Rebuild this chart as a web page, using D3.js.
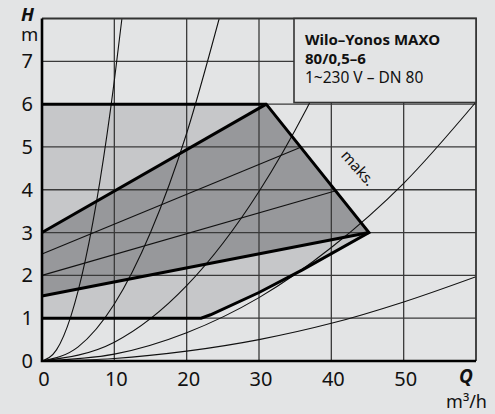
<!DOCTYPE html>
<html>
<head>
<meta charset="utf-8">
<script src="https://cdn.jsdelivr.net/npm/d3@7"></script>
<style>
  html, body { margin: 0; padding: 0; background: #e3e4e5; }
  svg { display: block; font-family: "Noto Sans", "Open Sans", sans-serif; }
</style>
</head>
<body>
<div class="container"></div>
<script>
// Chart values
const qTicks = [0, 10, 20, 30, 40, 50];
const hTicks = [0, 1, 2, 3, 4, 5, 6, 7];

// outer working field (min .. max), points as [Q, H]
const outerField = [[0, 6], [31, 6], [45.2, 3], [36, 2.13], [30, 1.6], [23.3, 1.08], [22, 1], [0, 1]];
// inner (darker) field
const innerField = [[0, 3], [31, 6], [45.2, 3], [0, 1.52]];
// thin lines inside the dark field
const midLines = [
    [[0, 2.5], [35.6, 4.98]],
    [[0, 2], [40.5, 3.97]]
];
// system curves from the origin
const sysCurves = [
    [[0, 0], [2, 0.26], [4, 1.05], [6, 2.36], [8, 4.19], [10, 6.55], [11.05, 8]],
    [[0, 0], [5, 0.33], [10, 1.33], [15, 3.0], [20, 5.32], [24.5, 8]],
    [[0, 0], [10, 0.44], [20, 1.76], [30, 3.96], [36.6, 5.9], [42.6, 8]],
    [[0, 0], [10, 0.16], [20, 0.66], [30, 1.48], [40, 2.65], [50, 4.15], [60, 6.05]],
    [[0, 0], [10, 0.06], [20, 0.23], [30, 0.5], [40, 0.88], [50, 1.38], [60, 1.97]]
];
const titleLines = ["Wilo–Yonos MAXO", "80/0,5–6", "1~230 V – DN 80"];

const width = 495,
    height = 414;

const x = d3.scaleLinear().domain([0, 60]).range([42, 476]);
const y = d3.scaleLinear().domain([0, 8]).range([361, 18.5]);

const svg = d3.select(".container")
    .append("svg")
    .attr("width", width)
    .attr("height", height);

svg.append("rect")
    .attr("width", width)
    .attr("height", height)
    .attr("fill", "#e3e4e5");

const line = d3.line().x(d => x(d[0])).y(d => y(d[1]));
const smooth = d3.line().x(d => x(d[0])).y(d => y(d[1])).curve(d3.curveMonotoneX);

// fields
svg.append("path")
    .attr("d", line(outerField) + "Z")
    .attr("fill", "#c6c7c9");
svg.append("path")
    .attr("d", line(innerField) + "Z")
    .attr("fill", "#97989b");

// grid
svg.append("g")
    .selectAll("line")
    .data(hTicks.slice(1))
    .enter()
    .append("line")
    .attr("x1", x(0)).attr("x2", x(60))
    .attr("y1", d => y(d)).attr("y2", d => y(d))
    .attr("stroke", "#3a3a3a")
    .attr("stroke-width", 1.3);
svg.append("g")
    .selectAll("line")
    .data(qTicks.slice(1))
    .enter()
    .append("line")
    .attr("x1", d => x(d)).attr("x2", d => x(d))
    .attr("y1", y(0)).attr("y2", y(8))
    .attr("stroke", "#3a3a3a")
    .attr("stroke-width", 1.3);

// clip thin curves to the plot area
svg.append("clipPath")
    .attr("id", "plot")
    .append("rect")
    .attr("x", x(0)).attr("y", y(8))
    .attr("width", x(60) - x(0))
    .attr("height", y(0) - y(8));

svg.append("g")
    .attr("clip-path", "url(#plot)")
    .selectAll("path")
    .data(sysCurves)
    .enter()
    .append("path")
    .attr("d", smooth)
    .attr("fill", "none")
    .attr("stroke", "#111")
    .attr("stroke-width", 1.1);

svg.append("g")
    .selectAll("path")
    .data(midLines)
    .enter()
    .append("path")
    .attr("d", line)
    .attr("fill", "none")
    .attr("stroke", "#111")
    .attr("stroke-width", 1.1);

// bold borders of the fields
svg.append("path")
    .attr("d", line(outerField))
    .attr("fill", "none")
    .attr("stroke", "#000")
    .attr("stroke-width", 3)
    .attr("stroke-linejoin", "miter");
svg.append("path")
    .attr("d", line([innerField[0], innerField[1]]))
    .attr("fill", "none")
    .attr("stroke", "#000")
    .attr("stroke-width", 3);
svg.append("path")
    .attr("d", line([innerField[3], innerField[2]]))
    .attr("fill", "none")
    .attr("stroke", "#000")
    .attr("stroke-width", 3);

// frame: top and right
svg.append("path")
    .attr("d", `M${x(0)},${y(8)}H${x(60)}V${y(0)}`)
    .attr("fill", "none")
    .attr("stroke", "#333")
    .attr("stroke-width", 1.8);

// axes lines
svg.append("path")
    .attr("d", `M${x(0)},${y(8)}V${y(0)}H${x(60)}`)
    .attr("fill", "none")
    .attr("stroke", "#000")
    .attr("stroke-width", 2.6);

// legend box
svg.append("rect")
    .attr("x", 294).attr("y", y(8))
    .attr("width", x(60) - 294)
    .attr("height", 84)
    .attr("fill", "#e3e4e5")
    .attr("stroke", "#333")
    .attr("stroke-width", 1.6);

svg.append("g")
    .selectAll("text")
    .data(titleLines)
    .enter()
    .append("text")
    .attr("x", 305)
    .attr("y", (d, i) => 44.5 + i * 19)
    .attr("font-size", (d, i) => i < 2 ? 15 : 15.5)
    .attr("font-weight", (d, i) => i < 2 ? "bold" : "normal")
    .attr("fill", "#111")
    .text(d => d);

// tick labels
svg.append("g")
    .selectAll("text")
    .data(hTicks)
    .enter()
    .append("text")
    .attr("x", 33)
    .attr("y", d => y(d) + 7)
    .attr("text-anchor", "end")
    .attr("font-size", 20)
    .attr("fill", "#111")
    .text(d => d);

svg.append("g")
    .selectAll("text")
    .data(qTicks)
    .enter()
    .append("text")
    .attr("x", d => x(d) + 2)
    .attr("y", 386)
    .attr("text-anchor", "middle")
    .attr("font-size", 20)
    .attr("fill", "#111")
    .text(d => d);

// axis titles
svg.append("text")
    .attr("x", 21).attr("y", 20.5)
    .attr("font-size", 18.5)
    .attr("font-weight", "bold")
    .attr("font-style", "italic")
    .attr("fill", "#111")
    .text("H");
svg.append("text")
    .attr("x", 21).attr("y", 41)
    .attr("font-size", 18.5)
    .attr("fill", "#111")
    .text("m");

svg.append("text")
    .attr("x", 473).attr("y", 383)
    .attr("text-anchor", "end")
    .attr("font-size", 19)
    .attr("font-weight", "bold")
    .attr("font-style", "italic")
    .attr("fill", "#111")
    .text("Q");
svg.append("text")
    .attr("x", 487).attr("y", 408)
    .attr("text-anchor", "end")
    .attr("font-size", 18)
    .attr("fill", "#111")
    .text("m³/h");

// max label along the edge
svg.append("text")
    .attr("transform", `translate(358,168) rotate(48)`)
    .attr("text-anchor", "middle")
    .attr("dy", "0.35em")
    .attr("font-size", 15)
    .attr("fill", "#111")
    .text("maks.");
</script>
</body>
</html>
